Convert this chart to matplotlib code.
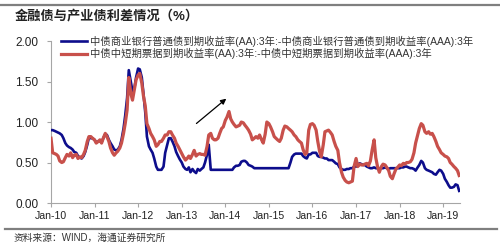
import matplotlib
matplotlib.use("Agg")
import matplotlib.pyplot as plt
from matplotlib.lines import Line2D
import pandas as pd
import numpy as np

plt.rcParams['font.family'] = ['Liberation Sans', 'Noto Sans CJK SC', 'DejaVu Sans']

title = "金融债与产业债利差情况（%）"
source = "资料来源：WIND，海通证券研究所"
label_blue = "中债商业银行普通债到期收益率(AA):3年:-中债商业银行普通债到期收益率(AAA):3年"
label_red = "中债中短期票据到期收益率(AA):3年:-中债中短期票据到期收益率(AAA):3年"

tick_years = [2010, 2011, 2012, 2013, 2014, 2015, 2016, 2017, 2018, 2019]
tick_labels = ["Jan-10", "Jan-11", "Jan-12", "Jan-13", "Jan-14",
               "Jan-15", "Jan-16", "Jan-17", "Jan-18", "Jan-19"]
y_ticks = [0.0, 0.5, 1.0, 1.5, 2.0]

# semi-monthly observations (1st and 15th), Jan 2010 - May 2019
blue = [
    # 2010
    0.90, 0.90, 0.89, 0.88, 0.87, 0.86, 0.84, 0.80, 0.74, 0.71, 0.69, 0.68,
    0.66, 0.63, 0.62, 0.58, 0.56, 0.55, 0.58, 0.63, 0.72, 0.81, 0.80, 0.80,
    # 2011
    0.78, 0.75, 0.76, 0.77, 0.75, 0.80, 0.85, 0.84, 0.78, 0.74, 0.70, 0.66,
    0.65, 0.66, 0.70, 0.78, 0.92, 1.08, 1.30, 1.64, 1.50, 1.38, 1.42, 1.55,
    # 2012
    1.66, 1.65, 1.55, 1.35, 1.12, 0.82, 0.70, 0.66, 0.62, 0.55, 0.45, 0.41,
    0.41, 0.41, 0.45, 0.62, 0.72, 0.80, 0.80, 0.76, 0.70, 0.63, 0.58, 0.54,
    # 2013
    0.50, 0.45, 0.42, 0.41, 0.44, 0.38, 0.42, 0.39, 0.37, 0.42, 0.40, 0.42,
    0.44, 0.50, 0.60, 0.72, 0.41, 0.41, 0.41, 0.41, 0.41, 0.41, 0.41, 0.41,
    # 2014
    0.41, 0.41, 0.41, 0.41, 0.41, 0.44, 0.46, 0.46, 0.47, 0.51, 0.52, 0.52,
    0.50, 0.47, 0.46, 0.45, 0.43, 0.43, 0.43, 0.43, 0.43, 0.43, 0.43, 0.43,
    # 2015
    0.43, 0.43, 0.43, 0.43, 0.43, 0.43, 0.43, 0.43, 0.43, 0.43, 0.43, 0.43,
    0.50, 0.57, 0.60, 0.61, 0.61, 0.61, 0.61, 0.58, 0.56, 0.55, 0.60, 0.60,
    # 2016
    0.62, 0.62, 0.62, 0.58, 0.57, 0.57, 0.56, 0.55, 0.55, 0.53, 0.53, 0.53,
    0.51, 0.49, 0.48, 0.44, 0.42, 0.41, 0.41, 0.42, 0.42, 0.43, 0.43, 0.45,
    # 2017
    0.45, 0.48, 0.49, 0.48, 0.47, 0.47, 0.45, 0.44, 0.43, 0.43, 0.44, 0.43,
    0.43, 0.42, 0.43, 0.43, 0.44, 0.43, 0.42, 0.43, 0.43, 0.43, 0.43, 0.43,
    # 2018
    0.43, 0.44, 0.44, 0.45, 0.45, 0.44, 0.43, 0.43, 0.42, 0.40, 0.44, 0.47,
    0.52, 0.50, 0.43, 0.41, 0.40, 0.39, 0.38, 0.36, 0.35, 0.38, 0.41, 0.40,
    # 2019
    0.36, 0.30, 0.26, 0.22, 0.19, 0.19, 0.20, 0.23, 0.22, 0.15,
]

red = [
    # 2010
    0.80, 0.62, 0.61, 0.60, 0.58, 0.52, 0.50, 0.51, 0.56, 0.60, 0.58, 0.62,
    0.56, 0.59, 0.60, 0.55, 0.57, 0.56, 0.60, 0.65, 0.76, 0.82, 0.82, 0.80,
    # 2011
    0.78, 0.74, 0.76, 0.78, 0.74, 0.80, 0.86, 0.82, 0.76, 0.68, 0.62, 0.59,
    0.62, 0.64, 0.68, 0.74, 0.86, 0.98, 1.15, 1.55, 1.35, 1.27, 1.40, 1.52,
    # 2012
    1.58, 1.60, 1.48, 1.32, 1.20, 0.98, 0.92, 0.86, 0.82, 0.78, 0.70, 0.72,
    0.76, 0.76, 0.80, 0.84, 0.84, 0.88, 0.88, 0.84, 0.80, 0.74, 0.70, 0.66,
    # 2013
    0.61, 0.57, 0.53, 0.55, 0.58, 0.55, 0.60, 0.65, 0.58, 0.60, 0.61, 0.60,
    0.60, 0.59, 0.70, 0.84, 0.86, 0.80, 0.78, 0.78, 0.80, 0.86, 0.92, 0.94,
    # 2014
    1.02, 1.06, 1.13, 1.04, 1.00, 0.97, 0.94, 0.95, 0.96, 1.00, 0.99, 0.96,
    0.93, 0.90, 0.85, 0.78, 0.80, 0.82, 0.80, 0.84, 0.78, 0.74, 0.85, 1.00,
    # 2015
    0.98, 0.94, 0.88, 0.82, 0.80, 0.78, 0.76, 0.80, 0.90, 0.95, 0.94, 0.92,
    0.90, 0.88, 0.84, 0.82, 0.78, 0.76, 0.74, 0.66, 0.60, 0.62, 0.90, 0.97,
    # 2016
    0.98, 0.96, 0.90, 0.76, 0.64, 0.57, 0.72, 0.88, 0.89, 0.90, 0.87, 0.84,
    0.76, 0.70, 0.65, 0.50, 0.38, 0.32, 0.28, 0.26, 0.25, 0.26, 0.27, 0.45,
    # 2017
    0.55, 0.45, 0.48, 0.47, 0.47, 0.48, 0.49, 0.46, 0.52, 0.65, 0.78, 0.56,
    0.44, 0.38, 0.45, 0.48, 0.47, 0.44, 0.40, 0.33, 0.30, 0.36, 0.42, 0.44,
    # 2018
    0.47, 0.46, 0.49, 0.48, 0.50, 0.50, 0.51, 0.54, 0.62, 0.74, 0.84, 0.92,
    0.98, 0.96, 0.88, 0.86, 0.88, 0.85, 0.86, 0.82, 0.76, 0.70, 0.66, 0.62,
    # 2019
    0.60, 0.58, 0.57, 0.55, 0.50, 0.48, 0.45, 0.43, 0.40, 0.34,
]

dates = pd.date_range("2010-01-01", periods=len(blue), freq="SMS")

fig = plt.figure(figsize=(5.0, 2.47), dpi=100)
ax = fig.add_axes([0.102, 0.178, 0.818, 0.656])

ax.plot(dates, blue, color="#0D0D8C", lw=1.9, label=label_blue, zorder=3)
ax.plot(dates, red, color="#C8504B", lw=2.3, label=label_red, zorder=4)

ax.set_ylim(0, 2.0)
ax.set_xlim(pd.Timestamp("2010-01-01"), pd.Timestamp("2019-05-22"))
ax.set_yticks(y_ticks)
ax.set_yticklabels([f"{v:.2f}" for v in y_ticks], fontsize=8.5)
ax.set_xticks([pd.Timestamp(f"{y}-01-01") for y in tick_years])
ax.set_xticklabels(tick_labels, fontsize=7.6)

for s in ["top", "right"]:
    ax.spines[s].set_visible(False)
for s in ["left", "bottom"]:
    ax.spines[s].set_color("#A6A6A6")
    ax.spines[s].set_linewidth(0.8)
ax.tick_params(axis="both", colors="#A6A6A6", length=3, width=0.8, labelcolor="#222222")
ax.tick_params(axis="x", pad=3)
ax.tick_params(axis="y", pad=6)

leg = ax.legend(loc="upper left", bbox_to_anchor=(0.015, 1.06), frameon=False,
                fontsize=7.45, handlelength=2.5, handletextpad=0.3,
                labelspacing=0.15, borderaxespad=0.0)
for t in leg.get_texts():
    t.set_color("#333333")

# annotation arrow
ax.annotate("", xy=(pd.Timestamp("2014-01-27"), 1.31),
            xytext=(pd.Timestamp("2013-04-16"), 0.96),
            arrowprops=dict(arrowstyle="-|>", color="black", lw=0.9,
                            mutation_scale=8))

# decorative rules and texts
fig.add_artist(Line2D([0.0, 1.0], [0.978, 0.978], color="#7F7F7F", lw=1.6))
fig.add_artist(Line2D([0.01, 0.994], [0.073, 0.073], color="#7F7F7F", lw=1.6))
fig.text(0.03, 0.935, title, fontsize=9.5, fontweight="bold", va="center", ha="left",
         color="#222222")
fig.text(0.028, 0.036, source, fontsize=7, va="center", ha="left", color="#333333")

fig.savefig("out.png", dpi=100)
